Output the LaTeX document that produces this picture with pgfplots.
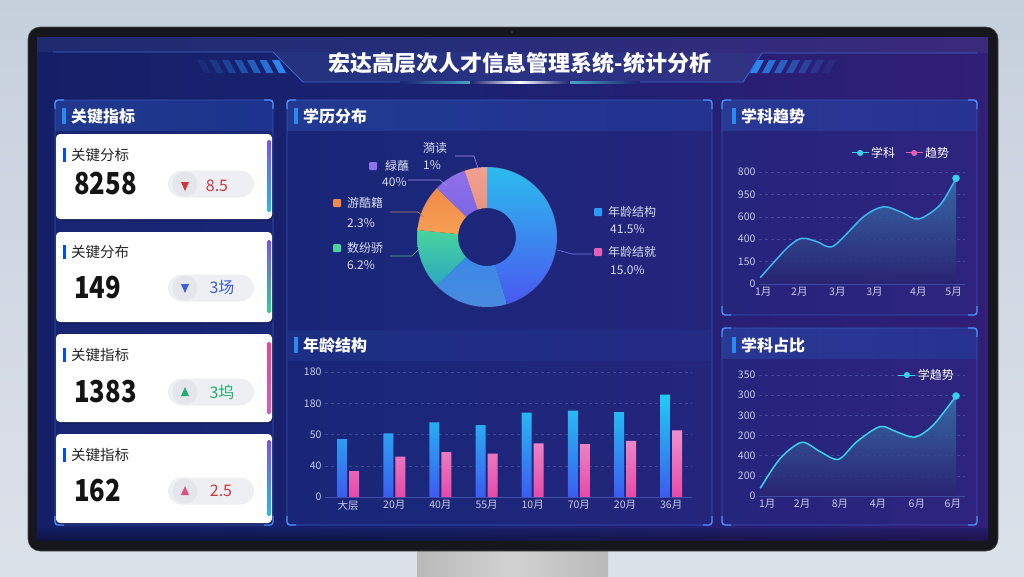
\documentclass[border=0pt]{standalone}
\usepackage{fontspec}
\setmainfont{Noto Sans CJK SC}
\usepackage{pgfplots}
\usepackage{pgfplotstable}
\pgfplotsset{compat=1.18}
\usetikzlibrary{calc}

\definecolor{bgtop}{HTML}{C6D0DD}
\definecolor{bgbot}{HTML}{DCE2EA}
\definecolor{bezel}{HTML}{15171C}
\definecolor{scrA}{HTML}{0D1C5A}
\definecolor{scrB}{HTML}{1A2272}
\definecolor{scrC}{HTML}{451A7A}
\definecolor{panelfill}{HTML}{2344A8}
\definecolor{panelline}{HTML}{3A66C8}
\definecolor{corner}{HTML}{4A90FF}
\definecolor{hbar}{HTML}{2A8AF0}
\definecolor{hdrA}{HTML}{2C52B0}
\definecolor{tick}{HTML}{C8CCE6}
\definecolor{grid}{HTML}{5A66B0}
\definecolor{axline}{HTML}{4050A8}
\definecolor{stripe}{HTML}{2B86F0}
\definecolor{pillc}{HTML}{EEEFF3}
\definecolor{pillcirc}{HTML}{E4E6EC}
\definecolor{vred}{HTML}{D0343F}
\definecolor{vblue}{HTML}{3A5FD8}
\definecolor{vgreen}{HTML}{22B070}
\definecolor{vpink}{HTML}{E0507A}
\definecolor{barP}{HTML}{7A50F0}
\definecolor{barC}{HTML}{28B8F0}
\definecolor{barG}{HTML}{30D090}
\definecolor{barK}{HTML}{E8448C}
\definecolor{barK2}{HTML}{D060C0}
\definecolor{bluetop}{HTML}{22CCF2}
\definecolor{bluebot}{HTML}{3C5CF0}
\definecolor{pinktop}{HTML}{EE90CC}
\definecolor{pinkbot}{HTML}{E64AA8}
\definecolor{s1a}{HTML}{2BBCEE}
\definecolor{s1b}{HTML}{4A58F0}
\definecolor{s2a}{HTML}{3A88E6}
\definecolor{s2b}{HTML}{4A8CE0}
\definecolor{s3a}{HTML}{48D49C}
\definecolor{s3b}{HTML}{2CA8C0}
\definecolor{s4a}{HTML}{F08A48}
\definecolor{s4b}{HTML}{F6A054}
\definecolor{s5a}{HTML}{9070EA}
\definecolor{s5b}{HTML}{7E66E4}
\definecolor{s6a}{HTML}{F2A090}
\definecolor{s6b}{HTML}{E89484}
\definecolor{lineA}{HTML}{3CB8F2}
\definecolor{lineB}{HTML}{38D2EE}
\definecolor{areaTop}{HTML}{3A78B0}
\definecolor{areaBot}{HTML}{2A2470}
\definecolor{lgpink}{HTML}{E060B8}
\definecolor{lbl}{HTML}{D8DCF0}

\pgfdeclarehorizontalshading{screen}{100bp}{color(0bp)=(scrA); color(45bp)=(scrB); color(100bp)=(scrC)}

\pgfplotstableread{
x blue pink
0 74 33
1 81.5 51.6
2 95.6 57.6
3 92 55.5
4 108 68.7
5 110.5 67.8
6 108.8 72
7 131 85.3
}\agedata

\pgfplotstableread{
x y
0 56
0.68 319
1.06 408
1.45 378
1.87 339
2.64 601
3.15 690
3.61 640
4.04 580
4.59 705
5.0 944
}\trenddata

\pgfplotstableread{
x y
0 19
0.51 93
1.06 133
1.53 110
2.0 91
2.47 135
3.06 172
3.49 159
3.95 146
4.42 176
5.0 248
}\sharedata

\pgfplotsset{
  dash/.style={
    scale only axis,
    /pgf/number format/assume math mode=true,
    axis x line*=bottom, axis y line*=left,
    y axis line style={draw=none},
    x axis line style={draw=axline, -},
    major tick length=0pt,
    ymajorgrids,
    grid style={dashed, draw=grid, opacity=0.55},
    tick label style={text=tick, font=\fontsize{10.5}{12}\selectfont},
  }
}

\begin{document}
\begin{tikzpicture}[x=1pt,y=-1pt]
% page background
\shade[top color=bgtop, bottom color=bgbot] (0,0) rectangle (1024,576);
% stand
\shade[left color=gray!55, right color=gray!55, middle color=gray!35] (417,545) rectangle (608,576);
% bezel
\fill[bezel, rounded corners=12pt] (28,27) rectangle (998,551);
\draw[gray!60!black, line width=0.6pt, rounded corners=12pt] (28,27) rectangle (998,551);
\fill[gray!40!black] (512,32) circle[radius=1.6pt];
% screen
\shade[shading=screen] (37,37) rectangle (988,540);
\shade[top color=scrA, bottom color=black, opacity=0.35] (37,528) rectangle (988,540);

% header shape
\fill[white, opacity=0.05] (37,37) -- (988,37) -- (988,53) -- (762,53) -- (743,82) -- (303,82) -- (273,52) -- (37,52) -- cycle;
\fill[hdrA, opacity=0.18] (273,52) -- (762,53) -- (743,82) -- (303,82) -- cycle;
\draw[panelline, line width=0.9pt] (53,52) -- (273,52) -- (303,82) -- (743,82) -- (762,53) -- (977,53);
\shade[left color=scrB, right color=scrB, middle color=cyan!60!white] (400,81) rectangle (640,83.5);
\shade[left color=scrB, right color=scrB, middle color=white] (470,81.5) rectangle (570,83);
% stripes
\foreach \i/\o in {0/0.12,1/0.22,2/0.34,3/0.48,4/0.62,5/0.8,6/1} {
  \fill[stripe, opacity=\o] ({197+\i*12.5},60) -- ({204+\i*12.5},60) -- ({211+\i*12.5},73) -- ({204+\i*12.5},73) -- cycle;
}
\foreach \i/\o in {0/1,1/0.8,2/0.62,3/0.48,4/0.34,5/0.22,6/0.12} {
  \fill[stripe, opacity=\o] ({757+\i*12},60) -- ({764+\i*12},60) -- ({757+\i*12},73) -- ({750+\i*12},73) -- cycle;
}
\node[text=white, inner sep=0, font=\bfseries\fontsize{22}{22}\selectfont] at (520,63) {宏达高层次人才信息管理系统-统计分析};

% panels
\foreach \xa/\ya/\xb/\yb in {55/100/273/525, 287/100/712/525, 722/100/977/315, 722/328/977/525} {
  \fill[panelfill, opacity=0.16, rounded corners=4pt] (\xa,\ya) rectangle (\xb,\yb);
  \shade[left color=hdrA, right color=panelfill, opacity=0.45] (\xa,\ya) rectangle (\xb,\ya+30);
  \draw[panelline, opacity=0.75, line width=0.7pt, rounded corners=4pt] (\xa,\ya) rectangle (\xb,\yb);
  \draw[corner, line width=1.4pt] (\xa,\ya+9) -- (\xa,\ya+3) arc[start angle=180, end angle=90, radius=3pt] -- (\xa+9,\ya);
  \draw[corner, line width=1.4pt] (\xb-9,\ya) -- (\xb-3,\ya) arc[start angle=90, end angle=0, radius=3pt] -- (\xb,\ya+9);
  \draw[corner, line width=1.4pt] (\xa,\yb-9) -- (\xa,\yb-3) arc[start angle=180, end angle=270, radius=3pt] -- (\xa+9,\yb);
  \draw[corner, line width=1.4pt] (\xb-9,\yb) -- (\xb-3,\yb) arc[start angle=270, end angle=360, radius=3pt] -- (\xb,\yb-9);
}
\shade[left color=hdrA, right color=panelfill, opacity=0.2] (288,330) rectangle (711,360);
% panel headers
\foreach \x/\y/\t in {62/116/关键指标, 294/116/学历分布, 294/345/年龄结构, 732/116/学科趋势, 732/345/学科占比} {
  \fill[hbar] (\x,\y-8) rectangle (\x+3.5,\y+8);
  \node[anchor=west, inner sep=0, text=white, font=\bfseries\fontsize{16}{16}\selectfont] at (\x+9,\y) {\t};
}

% KPI cards
\foreach \ya/\yb/\lab/\num/\ly/\ny/\ba/\bb/\bc/\bd in {
  134/219/关键分标/8258/155/184/140/212/barP/barC,
  232/322/关键分布/149/252/288/240/313/barP/barG,
  334/422/关键指标/1383/355/392/342/414/barK/barK2,
  434/523/关键指标/162/455/491/440/516/barP/barC} {
  \fill[black, opacity=0.25, rounded corners=4pt] (57,\ya+1.5) rectangle (273,\yb+1.5);
  \fill[white, rounded corners=4pt] (56,\ya) rectangle (272,\yb);
  \fill[blue!70!cyan] (63,\ly-7) rectangle (66,\ly+7);
  \node[anchor=west, inner sep=0, text=black!85, font=\fontsize{14.5}{15}\selectfont] at (71,\ly) {\lab};
  \node[anchor=west, inner sep=0, text=black!92, font=\bfseries\fontsize{27}{27}\selectfont] at (74,\ny) {\scalebox{0.95}[1.12]{\num}};
  \fill[pillc, rounded corners=13.5pt] (168,\ny-13.5) rectangle (254,\ny+13.5);
  \fill[pillcirc] (185,\ny) circle[radius=12.5pt];
  \shade[top color=\bc, bottom color=\bd, rounded corners=1.5pt] (267,\ba) rectangle (271,\bb);
}
% card markers & values
\fill[vred] (181,182) -- (189,182) -- (185,191) -- cycle;
\node[text=vred, font=\fontsize{16}{16}\selectfont] at (217,186) {8.5};
\fill[vblue] (181,284) -- (189,284) -- (185,293) -- cycle;
\node[text=vblue, font=\fontsize{16}{16}\selectfont] at (222,288) {3场};
\fill[vgreen] (181,396) -- (189,396) -- (185,387) -- cycle;
\node[text=vgreen, font=\fontsize{16}{16}\selectfont] at (222,392) {3坞};
\fill[vpink] (181,495) -- (189,495) -- (185,486) -- cycle;
\node[text=vred, font=\fontsize{16}{16}\selectfont] at (221,491) {2.5};

% donut
\begin{axis}[at={(487pt,-237pt)}, anchor=center, scale only axis, width=140pt, height=140pt,
  xmin=-1, xmax=1, ymin=-1, ymax=1, hide axis]
\addplot[draw=none, forget plot] coordinates {(0,0)};
\pgfplotsextra{
  \xdef\cum{90}
  \foreach \v/\ca/\cb in {45.4/s1a/s1b, 17.4/s2a/s2b, 13.8/s3a/s3b, 10.7/s4a/s4b, 7.5/s5a/s5b, 5.2/s6a/s6b} {
    \pgfmathsetmacro\s{\cum}
    \pgfmathsetmacro\e{\cum - \v*3.6}
    \shade[top color=\ca, bottom color=\cb] ($(axis cs:0,0)+(\s:70pt)$) arc[start angle=\s, end angle=\e, radius=70pt]
      -- ($(axis cs:0,0)+(\e:29pt)$) arc[start angle=\e, end angle=\s, radius=29pt] -- cycle;
    \draw[scrB!70!white, opacity=0.5, line width=0.4pt] ($(axis cs:0,0)+(\s:70pt)$) arc[start angle=\s, end angle=\e, radius=70pt];
    \xdef\cum{\e}
  }
}
\end{axis}
% donut leaders
\draw[s5a!80!white, line width=0.6pt] (455,156) -- (474,156) -- (479,171);
\draw[s5a!80!white, line width=0.6pt] (408,180) -- (440,180) -- (447,186);
\draw[s4a!50!gray, line width=0.6pt] (390,212) -- (418,212) -- (424,217);
\draw[s3a!60!gray, line width=0.6pt] (390,256) -- (412,256) -- (418,250);
\draw[s1b!80!white, line width=0.6pt] (557,250) -- (572,254) -- (592,254);
% donut labels
\begin{scope}[every node/.style={anchor=west, inner sep=0, text=lbl, font=\fontsize{12}{12}\selectfont}]
\node at (423,148) {漪读};
\node at (423,165) {1\%};
\fill[s5a, rounded corners=1pt] (369,162) rectangle (377,170);
\node at (385,166) {緑蘸};
\node at (382,182) {40\%};
\fill[s4a, rounded corners=1pt] (333,199) rectangle (341,207);
\node at (347,203) {游酷籍};
\node at (347,223) {2.3\%};
\fill[s3a, rounded corners=1pt] (333,244) rectangle (341,252);
\node at (347,248) {数纷骄};
\node at (347,265) {6.2\%};
\fill[s1b!60!cyan, rounded corners=1pt] (594,208) rectangle (602,216);
\node at (608,212) {年龄结构};
\node at (610,229) {41.5\%};
\fill[lgpink, rounded corners=1pt] (594,248) rectangle (602,256);
\node at (608,252) {年龄结就};
\node at (610,270) {15.0\%};
\end{scope}

% bar chart
\begin{axis}[dash, at={(325pt,-497pt)}, anchor=south west, width=367pt, height=125pt,
  ymin=0, ymax=160, xmin=-0.5, xmax=7.45,
  ytick={0,40,80,120,160}, yticklabels={0,40,50,180,180},
  xtick={0,...,7}, xticklabels={大层,20月,40月,55月,10月,70月,20月,36月},
  ybar=2pt, bar width=10pt]
\addplot[draw=none, top color=bluetop, bottom color=bluebot] table[x=x, y=blue] {\agedata};
\addplot[draw=none, top color=pinktop, bottom color=pinkbot] table[x=x, y=pink] {\agedata};
\end{axis}

% trend chart
\begin{axis}[dash, at={(759pt,-284pt)}, anchor=south west, width=206pt, height=112pt,
  xmin=-0.03, xmax=5.23, ymin=0, ymax=1000,
  ytick={0,200,400,600,800,1000}, yticklabels={0,150,400,600,950,800},
  xtick={0.08,1,1.97,2.92,4.04,4.94}, xticklabels={1月,2月,3月,3月,4月,5月},
  legend columns=2,
  legend style={at={(0.69,1.17)}, anchor=center, draw=none, fill=none, text=white,
    font=\fontsize{12}{12}\selectfont, /tikz/every even column/.append style={column sep=8pt}}]
\addplot[draw=none, smooth, top color=areaTop, bottom color=areaBot, fill opacity=0.8, forget plot] table[x=x,y=y] {\trenddata} \closedcycle;
\addplot[smooth, color=lineA, line width=1.5pt, forget plot] table[x=x,y=y] {\trenddata};
\addplot[only marks, mark=*, mark size=3.5pt, color=lineB, forget plot] coordinates {(5.0,944)};
\addlegendimage{color=lineB, mark=*, mark size=2.5pt, line width=1pt}
\addlegendentry{学科}
\addlegendimage{color=lgpink, mark=*, mark size=2.5pt, line width=1pt}
\addlegendentry{趋势}
\end{axis}

% share chart
\begin{axis}[dash, at={(759pt,-496pt)}, anchor=south west, width=206pt, height=121pt,
  xmin=-0.03, xmax=5.23, ymin=0, ymax=300,
  ytick={0,50,...,300}, yticklabels={0,200,400,200,300,300,350},
  xtick={0.18,1.07,2.04,3.01,4.0,4.92}, xticklabels={1月,2月,8月,4月,6月,6月},
  legend style={at={(0.815,1.0)}, anchor=center, draw=none, fill=none, text=white,
    font=\fontsize{12}{12}\selectfont}]
\addplot[draw=none, smooth, top color=areaTop, bottom color=areaBot, fill opacity=0.8, forget plot] table[x=x,y=y] {\sharedata} \closedcycle;
\addplot[smooth, color=lineB, line width=1.5pt, forget plot] table[x=x,y=y] {\sharedata};
\addplot[only marks, mark=*, mark size=3.5pt, color=lineB, forget plot] coordinates {(5.0,248)};
\addlegendimage{color=lineB, mark=*, mark size=2.5pt, line width=1pt}
\addlegendentry{学趋势}
\end{axis}
\end{tikzpicture}
\end{document}
